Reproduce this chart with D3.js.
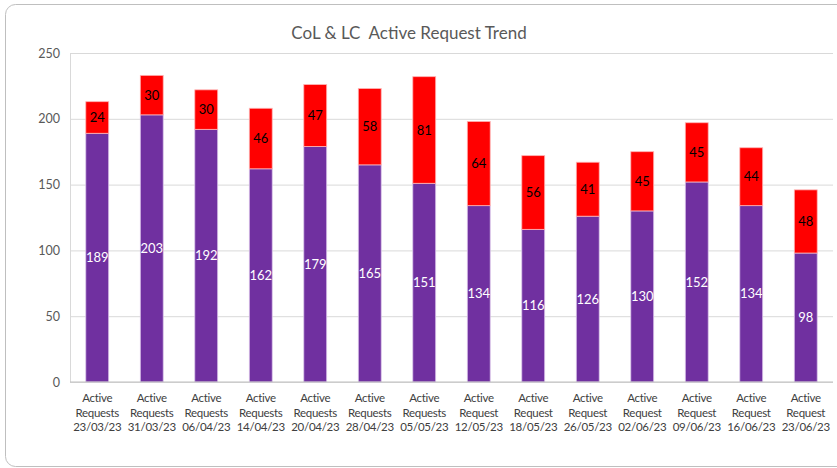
<!DOCTYPE html>
<html>
<head>
<meta charset="utf-8">
<script src="https://cdn.jsdelivr.net/npm/d3@7"></script>
<style>
  body { margin: 0; background: #fff; }
  svg text { font-family: "Lato", "Open Sans", sans-serif; }
</style>
</head>
<body>
<div id="chart"></div>
<script>
// Data
const categories = [
    "Active|Requests|23/03/23", "Active|Requests|31/03/23", "Active|Requests|06/04/23",
    "Active|Requests|14/04/23", "Active|Requests|20/04/23", "Active|Requests|28/04/23",
    "Active|Requests|05/05/23", "Active|Request|12/05/23", "Active|Request|18/05/23",
    "Active|Request|26/05/23", "Active|Request|02/06/23", "Active|Request|09/06/23",
    "Active|Request|16/06/23", "Active|Request|23/06/23"
];
const activeValues = [189, 203, 192, 162, 179, 165, 151, 134, 116, 126, 130, 152, 134, 98];
const extraValues = [24, 30, 30, 46, 47, 58, 81, 64, 56, 41, 45, 45, 44, 48];
const yTicks = [0, 50, 100, 150, 200, 250];

// Dimensions
const W = 837, H = 468;
const margin = { top: 53, right: 4, bottom: 86, left: 70 },
    width = W - margin.left - margin.right,
    height = H - margin.top - margin.bottom;

const root = d3.select("#chart")
    .append("svg")
    .attr("width", W)
    .attr("height", H);

// Chart frame
root.append("rect")
    .attr("x", 5.5).attr("y", 4.5)
    .attr("width", W + 20).attr("height", 462)
    .attr("rx", 10)
    .attr("fill", "#fff")
    .attr("stroke", "#bfbfbf")
    .attr("stroke-width", 1);

// Title
root.append("text")
    .attr("x", 409).attr("y", 39)
    .attr("text-anchor", "middle")
    .attr("fill", "#595959")
    .style("font-size", "17px")
    .style("white-space", "pre")
    .text("CoL & LC  Active Request Trend");

const svg = root.append("g")
    .attr("transform", `translate(${margin.left},${margin.top})`);

// Scales
const x = d3.scaleBand()
    .domain(categories)
    .range([0, width])
    .paddingInner(0.58)
    .paddingOuter(0.29);

const y = d3.scaleLinear()
    .domain([0, 250])
    .range([height, 0]);

// Grid lines
svg.append("g")
    .call(d3.axisLeft(y).tickValues(yTicks).tickSize(-width).tickFormat(""))
    .call(g => g.select(".domain").remove())
    .call(g => g.selectAll("line").attr("stroke", "#d9d9d9"));

// Y axis
svg.append("g")
    .call(d3.axisLeft(y).tickValues(yTicks).tickSize(0).tickPadding(10))
    .call(g => g.select(".domain").attr("stroke", "#d9d9d9"))
    .call(g => g.selectAll("text")
        .attr("fill", "#595959")
        .style("font-size", "12.5px"));

// Bars
const stacked = categories.map((c, i) => ({
    cat: c,
    a: activeValues[i],
    b: extraValues[i]
}));

svg.selectAll(".bar-a")
    .data(stacked)
    .enter()
    .append("rect")
    .attr("x", d => x(d.cat))
    .attr("width", x.bandwidth())
    .attr("y", d => y(d.a))
    .attr("height", d => y(0) - y(d.a))
    .attr("fill", "#7030a0")
    .attr("stroke", "#d9c3ea")
    .attr("stroke-width", 0.8);

svg.selectAll(".bar-b")
    .data(stacked)
    .enter()
    .append("rect")
    .attr("x", d => x(d.cat))
    .attr("width", x.bandwidth())
    .attr("y", d => y(d.a + d.b))
    .attr("height", d => y(d.a) - y(d.a + d.b))
    .attr("fill", "#ff0000")
    .attr("stroke", "#ffb3b3")
    .attr("stroke-width", 0.8);

// X axis line
svg.append("line")
    .attr("x1", 0).attr("x2", width)
    .attr("y1", height).attr("y2", height)
    .attr("stroke", "#bfbfbf");

// Data labels
svg.selectAll(".lab-a")
    .data(stacked)
    .enter()
    .append("text")
    .attr("x", d => x(d.cat) + x.bandwidth() / 2)
    .attr("y", d => y(d.a / 2))
    .attr("dy", "0.35em")
    .attr("text-anchor", "middle")
    .attr("fill", "#fff")
    .style("font-size", "13px")
    .text(d => d.a);

svg.selectAll(".lab-b")
    .data(stacked)
    .enter()
    .append("text")
    .attr("x", d => x(d.cat) + x.bandwidth() / 2)
    .attr("y", d => y(d.a + d.b / 2))
    .attr("dy", "0.35em")
    .attr("text-anchor", "middle")
    .attr("fill", "#000")
    .style("font-size", "13px")
    .text(d => d.b);

// Category labels (three lines each)
const catLabels = svg.selectAll(".cat")
    .data(categories)
    .enter()
    .append("text")
    .attr("text-anchor", "middle")
    .attr("fill", "#404040")
    .style("font-size", "11.5px")
    .style("letter-spacing", "-0.3px")
    .attr("transform", d => `translate(${x(d) + x.bandwidth() / 2},${height + 20})`);

catLabels.selectAll("tspan")
    .data(d => d.split("|"))
    .enter()
    .append("tspan")
    .attr("x", 0)
    .attr("dy", (d, i) => i === 0 ? 0 : 14.7)
    .text(d => d);
</script>
</body>
</html>
